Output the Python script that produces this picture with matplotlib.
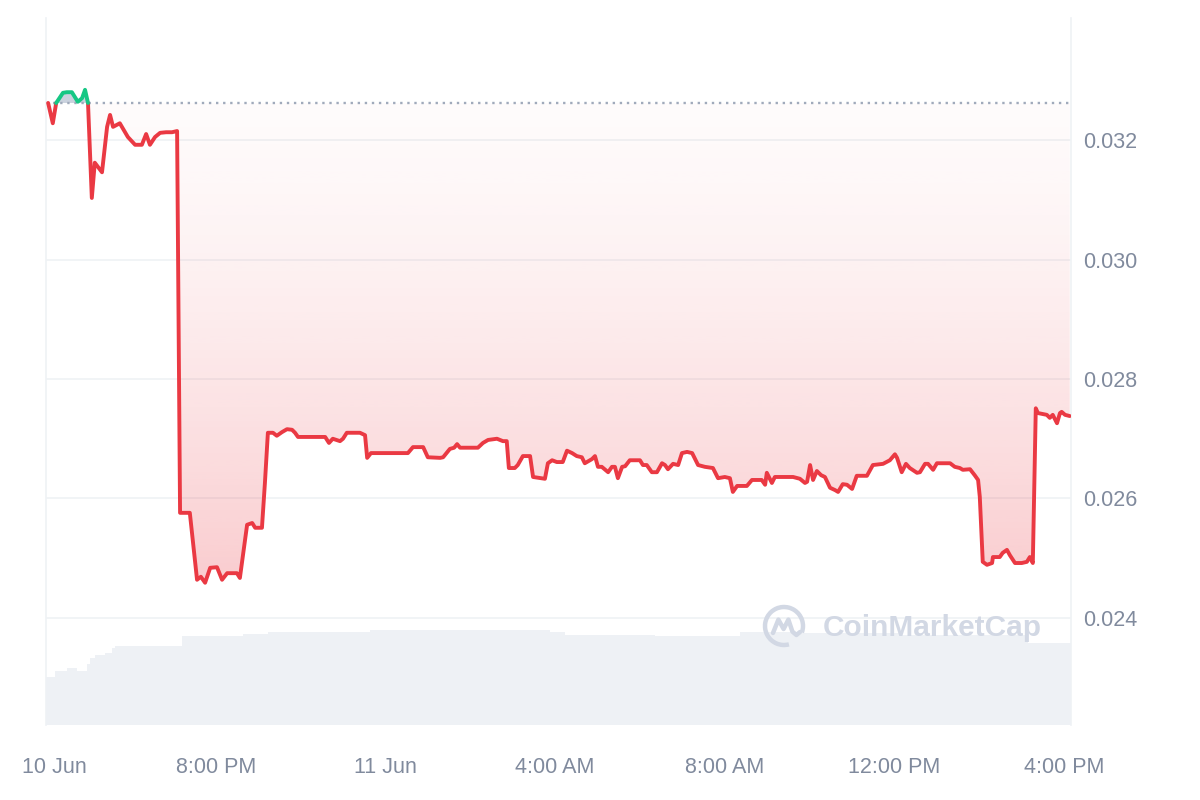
import numpy as np
import matplotlib
matplotlib.use("Agg")
import matplotlib.pyplot as plt
from matplotlib.patches import Arc
from matplotlib.path import Path
import matplotlib.transforms as mtransforms

# ---------------- data ----------------
# time in hours since 10 Jun 4:00 PM
hours = [0.05, 0.16, 0.24, 0.40, 0.49, 0.61, 0.75, 0.85, 0.92, 0.99,
         1.08, 1.15, 1.32, 1.44, 1.51, 1.58, 1.74, 1.93, 2.10, 2.26,
         2.36, 2.45, 2.57, 2.69, 2.83, 2.97, 3.09, 3.16, 3.39, 3.56,
         3.65, 3.75, 3.87, 4.03, 4.15, 4.27, 4.50, 4.57, 4.74, 4.86,
         4.93, 5.09, 5.16, 5.23, 5.35, 5.44, 5.56, 5.68, 5.80, 5.87,
         5.94, 6.58, 6.67, 6.76, 6.93, 7.00, 7.09, 7.40, 7.52, 7.57,
         7.66, 8.53, 8.65, 8.89, 9.00, 9.29, 9.36, 9.52, 9.62, 9.69,
         9.76, 10.18, 10.30, 10.42, 10.63, 10.77, 10.86, 10.91, 11.05, 11.12,
         11.24, 11.41, 11.48, 11.76, 11.83, 11.93, 12.04, 12.18, 12.28, 12.40,
         12.51, 12.63, 12.70, 12.87, 12.94, 13.01, 13.10, 13.25, 13.34, 13.41,
         13.48, 13.58, 13.65, 13.76, 14.00, 14.07, 14.16, 14.28, 14.40, 14.52,
         14.59, 14.66, 14.78, 14.90, 14.99, 15.11, 15.23, 15.37, 15.53, 15.72,
         15.84, 16.00, 16.12, 16.19, 16.29, 16.52, 16.64, 16.87, 16.95, 16.99,
         17.11, 17.18, 17.61, 17.77, 17.89, 17.94, 18.01, 18.08, 18.17, 18.27,
         18.36, 18.48, 18.60, 18.67, 18.78, 18.88, 19.00, 19.11, 19.35, 19.49,
         19.73, 19.89, 20.01, 20.06, 20.17, 20.27, 20.36, 20.53, 20.60, 20.72,
         20.79, 20.91, 21.00, 21.31, 21.42, 21.54, 21.61, 21.78, 21.89, 21.97,
         22.01, 22.08, 22.18, 22.30, 22.32, 22.48, 22.55, 22.65, 22.72, 22.84,
         23.00, 23.12, 23.19, 23.26, 23.33, 23.38, 23.59, 23.66, 23.73, 23.83,
         23.90, 23.94, 24.02, 24.13]
price = [0.03262, 0.03228, 0.03262, 0.03279, 0.03280, 0.03280, 0.03264, 0.03270, 0.03284, 0.03262,
         0.03103, 0.03162, 0.03146, 0.03222, 0.03242, 0.03222, 0.03228, 0.03205, 0.03192, 0.03192,
         0.03210, 0.03192, 0.03205, 0.03212, 0.03213, 0.03213, 0.03215, 0.02576, 0.02576, 0.02464,
         0.02469, 0.02459, 0.02484, 0.02485, 0.02464, 0.02475, 0.02475, 0.02467, 0.02556, 0.02559,
         0.02551, 0.02551, 0.02626, 0.02710, 0.02710, 0.02705, 0.02711, 0.02716, 0.02715, 0.02710,
         0.02703, 0.02703, 0.02693, 0.02700, 0.02696, 0.02700, 0.02710, 0.02710, 0.02706, 0.02668,
         0.02676, 0.02676, 0.02686, 0.02686, 0.02669, 0.02668, 0.02669, 0.02683, 0.02685, 0.02691,
         0.02685, 0.02685, 0.02693, 0.02698, 0.02700, 0.02696, 0.02696, 0.02651, 0.02651, 0.02656,
         0.02671, 0.02671, 0.02636, 0.02633, 0.02659, 0.02664, 0.02661, 0.02661, 0.02680, 0.02676,
         0.02671, 0.02669, 0.02659, 0.02666, 0.02671, 0.02653, 0.02653, 0.02644, 0.02653, 0.02653,
         0.02634, 0.02653, 0.02654, 0.02664, 0.02664, 0.02656, 0.02656, 0.02644, 0.02644, 0.02659,
         0.02656, 0.02649, 0.02658, 0.02656, 0.02676, 0.02678, 0.02676, 0.02656, 0.02653, 0.02651,
         0.02634, 0.02636, 0.02634, 0.02611, 0.02621, 0.02621, 0.02631, 0.02631, 0.02623, 0.02643,
         0.02626, 0.02636, 0.02636, 0.02633, 0.02626, 0.02628, 0.02656, 0.02631, 0.02646, 0.02639,
         0.02636, 0.02618, 0.02614, 0.02611, 0.02624, 0.02623, 0.02616, 0.02638, 0.02638, 0.02656,
         0.02658, 0.02664, 0.02674, 0.02668, 0.02644, 0.02658, 0.02651, 0.02643, 0.02644, 0.02658,
         0.02658, 0.02648, 0.02659, 0.02659, 0.02653, 0.02651, 0.02648, 0.02649, 0.02639, 0.02631,
         0.02603, 0.02494, 0.02489, 0.02492, 0.02502, 0.02502, 0.02509, 0.02514, 0.02505, 0.02492,
         0.02492, 0.02494, 0.02502, 0.02492, 0.02751, 0.02743, 0.02740, 0.02735, 0.02740, 0.02726,
         0.02743, 0.02745, 0.02740, 0.02738]
ref_price = 0.03262  # opening price (dotted line)

# rolling volume (arbitrary units, millions)
vol_hours = [0.0, 0.21, 0.49, 0.73, 0.97, 1.04, 1.15, 1.39, 1.56, 1.63, 3.21, 4.64,
             5.23, 7.64, 11.88, 12.23, 14.35, 16.36, 17.77, 20.13, 23.14, 24.16]
vol = [0.505, 0.568, 0.600, 0.568, 0.642, 0.705, 0.737, 0.758, 0.810, 0.830, 0.937, 0.958,
       0.979, 1.000, 0.979, 0.947, 0.937, 0.979, 0.968, 0.947, 0.863, 0.842]

xtick_hours = [0, 4, 8, 12, 16, 20, 24]
xtick_labels = ["10 Jun", "8:00 PM", "11 Jun", "4:00 AM", "8:00 AM", "12:00 PM", "4:00 PM"]
ytick_vals = [0.024, 0.026, 0.028, 0.030, 0.032]

# ---------------- style ----------------
RED = "#EA3943"
GREEN = "#16C784"
GREY = "#808A9D"
GRID = "#EFF2F5"
VOLC = "#EEF1F5"
WM = "#D2D8E4"
plt.rcParams['font.family'] = ['Liberation Sans', 'DejaVu Sans']

fig = plt.figure(figsize=(12, 8), dpi=100)
rect = [46 / 1200, 75 / 800, 1025 / 1200, 707 / 800]
XMAX = 24.16
YMIN, YMAX = 0.022209, 0.034042

# volume axes (behind)
ax_v = fig.add_axes(rect, zorder=0)
ax_v.fill_between(vol_hours, vol, 0, step="post", color=VOLC, lw=0)
ax_v.set_xlim(0, XMAX)
ax_v.set_ylim(0, 7.44)
ax_v.axis("off")

# price axes
ax = fig.add_axes(rect, zorder=2)
ax.patch.set_visible(False)
ax.set_xlim(0, XMAX)
ax.set_ylim(YMIN, YMAX)

t = np.array(hours)
p = np.array(price)
tt = [t[0]]
pp = [p[0]]
for i in range(1, len(t)):
    a, b = p[i - 1] - ref_price, p[i] - ref_price
    if a * b < 0:
        tc = t[i - 1] + (t[i] - t[i - 1]) * a / (a - b)
        tt.append(tc)
        pp.append(ref_price)
    tt.append(t[i])
    pp.append(p[i])
tt = np.array(tt)
pp = np.array(pp)

# gradient red fill between line and reference
fb = ax.fill_between(tt, pp, ref_price, where=pp <= ref_price + 1e-12, interpolate=True,
                     facecolor="none", edgecolor="none")
clip = Path.make_compound_path(*fb.get_paths())
n = 256
ys = np.linspace(YMIN, ref_price, n)
f = np.clip((ref_price - ys) / (ref_price - 0.0245), 0, 1)
alpha = 0.02 + 0.24 * f ** 1.4
rgba = np.zeros((n, 1, 4))
rgba[..., 0] = 234 / 255
rgba[..., 1] = 57 / 255
rgba[..., 2] = 67 / 255
rgba[..., 3] = alpha[:, None]
im = ax.imshow(rgba, extent=[0, XMAX, YMIN, ref_price], origin="lower", aspect="auto",
               interpolation="bilinear", zorder=1)
im.set_clip_path(clip, ax.transData)

# grey fill above reference
ax.fill_between(tt, pp, ref_price, where=pp >= ref_price - 1e-12, interpolate=True,
                color="#C5CEDB", alpha=0.9, lw=0, zorder=1)

# reference dotted line
ax.axhline(ref_price, color="#A0AABB", lw=1.7, linestyle=(0, (1, 2)), zorder=2)

above = np.ma.masked_where(pp < ref_price - 1e-12, pp)
below = np.ma.masked_where(pp > ref_price + 1e-12, pp)
ax.plot(tt, below, color=RED, lw=2.8, solid_joinstyle="round", solid_capstyle="round", zorder=4)
ax.plot(tt, above, color=GREEN, lw=2.8, solid_joinstyle="round", solid_capstyle="round", zorder=5)

# axes styling
ax.set_xticks(xtick_hours)
ax.set_xticklabels(xtick_labels)
ax.yaxis.tick_right()
ax.set_yticks(ytick_vals)
ax.set_yticklabels([f"{v:.3f}" for v in ytick_vals])
ax.tick_params(axis="x", length=0, pad=23, labelsize=15.5, labelcolor=GREY)
ax.tick_params(axis="y", length=0, pad=9, labelsize=15.5, labelcolor=GREY)
ax.grid(axis="y", color=GRID, lw=1.2, zorder=0)
ax.set_axisbelow(True)
for s in ["top", "bottom"]:
    ax.spines[s].set_visible(False)
for s in ["left", "right"]:
    ax.spines[s].set_color(GRID)
    ax.spines[s].set_linewidth(1.2)

# nudge first x label (kept inside the figure)
lbl0 = ax.get_xticklabels()[0]
lbl0.set_transform(lbl0.get_transform() + mtransforms.ScaledTranslation(8 / 100, 0, fig.dpi_scale_trans))

# watermark
fig.text(823 / 1200, 1 - 628 / 800, "CoinMarketCap", fontsize=21.5, fontweight="bold",
         color=WM, ha="left", va="center", family=["Liberation Sans", "DejaVu Sans"], zorder=3)
lax = fig.add_axes([761 / 1200, 1 - 649 / 800, 46 / 1200, 46 / 800], zorder=3)
lax.set_xlim(-1.15, 1.15)
lax.set_ylim(-1.15, 1.15)
lax.set_aspect("equal")
lax.axis("off")
lax.add_patch(Arc((0, 0), 1.9, 1.9, theta1=-20, theta2=285, color=WM, lw=3.2))
lax.plot([-0.55, -0.28, -0.02, 0.22, 0.42, 0.62, 0.8],
         [-0.35, 0.32, -0.15, 0.32, -0.28, -0.45, -0.3], color=WM, lw=3.2,
         solid_joinstyle="round", solid_capstyle="round")

fig.savefig("out.png", dpi=100)
